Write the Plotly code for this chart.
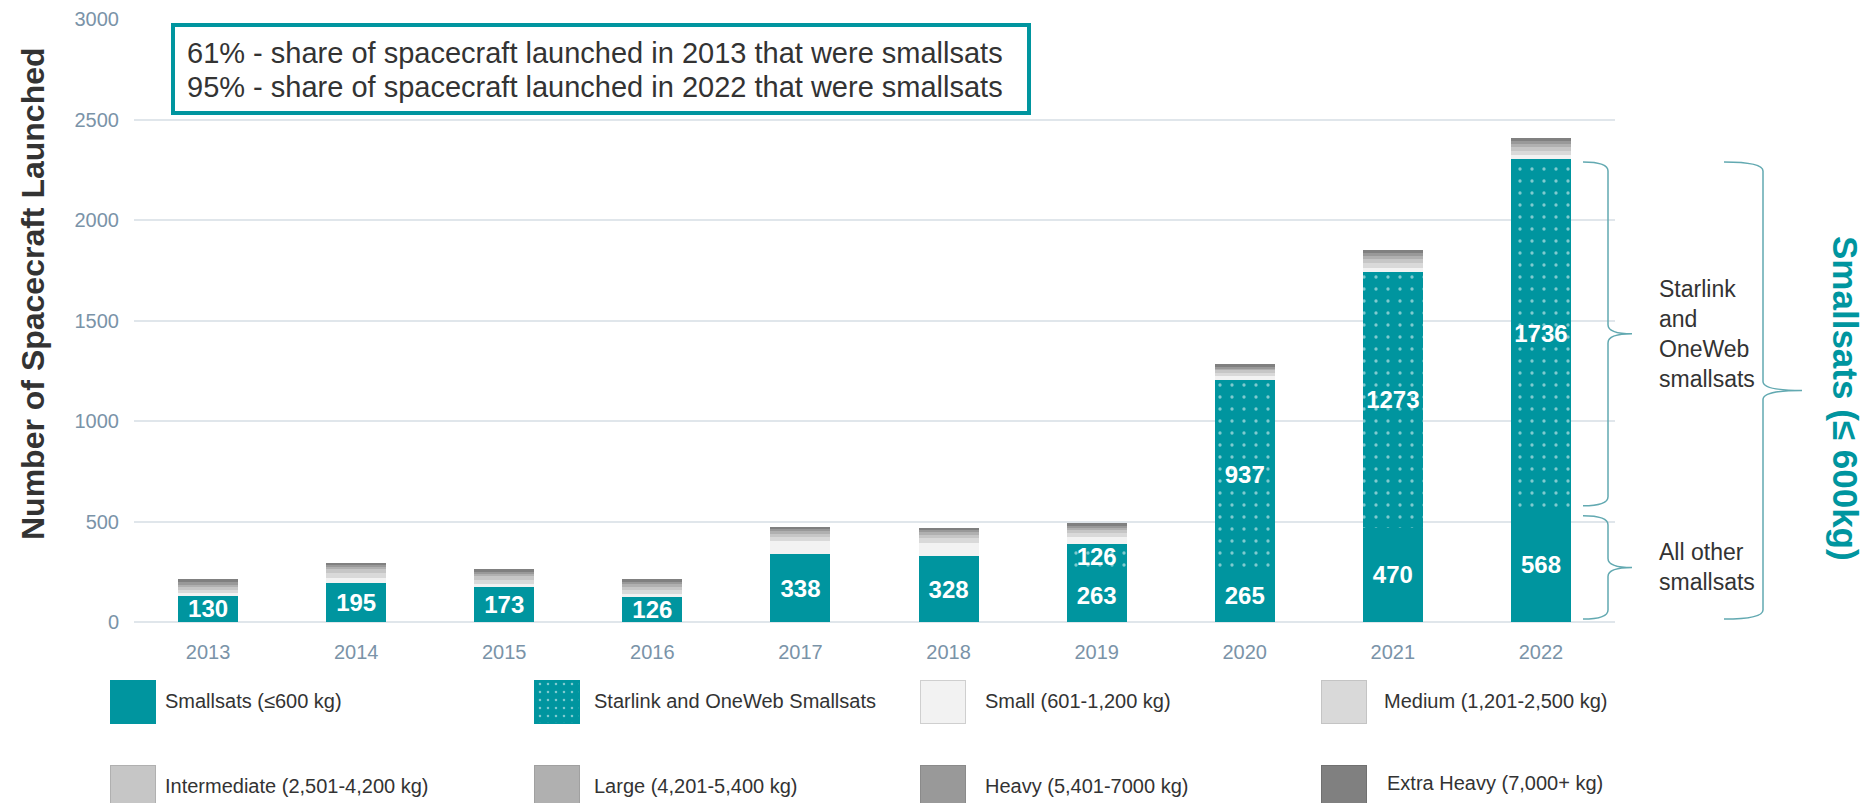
import plotly.graph_objects as go

# ---------------- data ----------------
years = ["2013", "2014", "2015", "2016", "2017", "2018", "2019", "2020", "2021", "2022"]
smallsats = [130, 195, 173, 126, 338, 328, 263, 265, 470, 568]
starlink_oneweb = [0, 0, 0, 0, 0, 0, 126, 937, 1273, 1736]
small = [15, 25, 16, 14, 63, 66, 33, 22, 20, 18]
medium = [14, 24, 22, 18, 20, 22, 20, 16, 22, 22]
intermediate = [13, 22, 18, 16, 18, 18, 16, 12, 20, 20]
large = [14, 12, 12, 14, 12, 12, 12, 10, 16, 16]
heavy = [12, 9, 10, 12, 10, 10, 10, 8, 14, 12]
extra_heavy = [15, 9, 12, 14, 11, 11, 12, 12, 16, 16]

series_names = ["Smallsats (≤600 kg)", "Starlink and OneWeb Smallsats", "Small (601-1,200 kg)",
                "Medium (1,201-2,500 kg)", "Intermediate (2,501-4,200 kg)", "Large (4,201-5,400 kg)",
                "Heavy (5,401-7000 kg)", "Extra Heavy (7,000+ kg)"]
box_lines = ["61% - share of spacecraft launched in 2013 that were smallsats",
             "95% - share of spacecraft launched in 2022 that were smallsats"]

# ---------------- style ----------------
OFF = 8                      # page body margin offset
W, H = 1876 - OFF, 803 - OFF


def px(x):
    return x - OFF


def py(y):
    return y - OFF


PL, PR, PT, PB = px(134), px(1615), py(19), py(622)
FONT = "Liberation Sans, Arial, Helvetica, sans-serif"
TEAL = "#00959F"
BRACE = "#62a9b1"
TXT = "#333333"
TICK = "#7a93a8"
GRID = "#e0e6eb"
colors = [TEAL, TEAL, "#F2F2F2", "#D9D9D9", "#C6C6C6", "#B0B0B0", "#999999", "#808080"]

fig = go.Figure()

all_vals = [smallsats, starlink_oneweb, small, medium, intermediate, large, heavy, extra_heavy]
for i, (name, vals, col) in enumerate(zip(series_names, all_vals, colors)):
    kw = dict(x=years, y=vals, name=name, marker=dict(color=col, line=dict(width=0)),
              hoverinfo="skip")
    if i == 0:
        kw.update(text=[f"<b>{v}</b>" for v in vals])
    elif i == 1:
        kw.update(text=[f"<b>{v}</b>" if v else "" for v in vals])
        kw["marker"]["pattern"] = dict(shape=".", fgcolor="white", bgcolor=TEAL,
                                       size=12, solidity=0.06, fillmode="overlay")
    if i < 2:
        kw.update(textposition="inside", insidetextanchor="middle", textangle=0,
                  constraintext="none",
                  textfont=dict(color="white", size=24, family=FONT))
    fig.add_trace(go.Bar(**kw))

# legend swatches drawn on a pixel overlay axis
sw_x = [px(v) for v in [132.5, 556.5, 943, 1344, 132.5, 556.5, 943, 1344]]
sw_base = [py(v) for v in [680] * 4 + [765] * 4]
sw_lines = [TEAL, TEAL, "#cfcfcf", "#c4c4c4", "#b0b0b0", "#a0a0a0", "#8a8a8a", "#707070"]
fig.add_trace(go.Bar(
    x=sw_x, y=[43] * 8, base=sw_base, width=[45] * 8,
    marker=dict(color=colors, line=dict(color=sw_lines, width=1),
                pattern=dict(shape=["", ".", "", "", "", "", "", ""], fgcolor="white",
                             size=8, solidity=0.08, fillmode="overlay")),
    xaxis="x2", yaxis="y2", hoverinfo="skip", showlegend=False))

ann = []
txt_x = [163, 592, 983, 1382, 163, 592, 983, 1385]
txt_y = [701, 701, 701, 701, 786, 786, 786, 783]
for name, x, y in zip(series_names, txt_x, txt_y):
    ann.append(dict(text=name, x=px(x), y=py(y), xref="x2", yref="y2", xanchor="left",
                    yanchor="middle", showarrow=False, font=dict(size=20, color=TXT, family=FONT)))

# y-axis title
ann.append(dict(text="<b>Number of Spacecraft Launched</b>", x=px(33), y=py(294), xref="x2",
                yref="y2", textangle=-90, showarrow=False,
                font=dict(size=32, color=TXT, family=FONT)))
# info box text
for line, y in zip(box_lines, [53, 87]):
    ann.append(dict(text=line, x=px(185), y=py(y), xref="x2", yref="y2", xanchor="left",
                    yanchor="middle", showarrow=False, font=dict(size=29, color=TXT, family=FONT)))

# braces (y in data units, anchored on the 2022 bar)
top = smallsats[-1] + starlink_oneweb[-1]
mid = smallsats[-1]


def brace(xa, xb, xc, yt, yb, r):
    xa, xb, xc = px(xa), px(xb), px(xc)
    ym = (yt + yb) / 2
    return (f"M {xa},{yt} Q {xb},{yt} {xb},{yt - r} L {xb},{ym + r} "
            f"Q {xb},{ym} {xc},{ym} Q {xb},{ym} {xb},{ym - r} "
            f"L {xb},{yb + r} Q {xb},{yb} {xa},{yb}")


shapes = [
    dict(type="rect", xref="x2", yref="y2", x0=px(173), x1=px(1029), y0=py(25), y1=py(113),
         line=dict(color=TEAL, width=4), fillcolor="white", layer="above"),
    dict(type="path", xref="x2", yref="y", path=brace(1583, 1608, 1632, top - 15, mid + 10, 45),
         line=dict(color=BRACE, width=1.5)),
    dict(type="path", xref="x2", yref="y", path=brace(1583, 1608, 1632, mid - 40, 15, 45),
         line=dict(color=BRACE, width=1.5)),
    dict(type="path", xref="x2", yref="y", path=brace(1724, 1763, 1802, top - 15, 15, 45),
         line=dict(color=BRACE, width=1.5)),
]
ann.append(dict(text="Starlink<br>and<br>OneWeb<br>smallsats", x=px(1657),
                y=(top - 15 + mid + 10) / 2, xref="x2", yref="y", xanchor="left",
                yanchor="middle", align="left", showarrow=False,
                font=dict(size=23, color=TXT, family=FONT)))
ann.append(dict(text="All other<br>smallsats", x=px(1657), y=(mid - 40 + 15) / 2,
                xref="x2", yref="y", xanchor="left", yanchor="middle", align="left",
                showarrow=False, font=dict(size=23, color=TXT, family=FONT)))
ann.append(dict(text="<b>Smallsats (≤ 600kg)</b>", x=px(1846), y=py(398), xref="x2", yref="y2",
                textangle=90, showarrow=False, font=dict(size=35, color=TEAL, family=FONT)))

fig.update_layout(
    width=W, height=H, margin=dict(l=0, r=0, t=0, b=0),
    template="none", barmode="stack", bargap=0.595, showlegend=False,
    paper_bgcolor="white", plot_bgcolor="rgba(0,0,0,0)",
    font=dict(family=FONT, color=TXT),
    xaxis=dict(domain=[PL / W, PR / W], type="category", showgrid=False, zeroline=False,
               showline=False, ticks="outside", ticklen=12, tickcolor="rgba(0,0,0,0)",
               tickfont=dict(size=20, color=TICK, family=FONT), automargin=False, fixedrange=True),
    yaxis=dict(domain=[1 - PB / H, 1 - PT / H], range=[0, 3000], dtick=500, showgrid=True,
               gridcolor=GRID, gridwidth=2, zeroline=True, zerolinecolor=GRID, zerolinewidth=2,
               showline=False, ticks="outside", ticklen=10, tickcolor="rgba(0,0,0,0)",
               tickfont=dict(size=20, color=TICK, family=FONT), automargin=False, fixedrange=True),
    xaxis2=dict(domain=[0, 1], range=[0, W], visible=False, anchor="y2", fixedrange=True),
    yaxis2=dict(domain=[0, 1], range=[H, 0], visible=False, anchor="x2", fixedrange=True),
    shapes=shapes, annotations=ann,
)

fig.write_html("out.html")
